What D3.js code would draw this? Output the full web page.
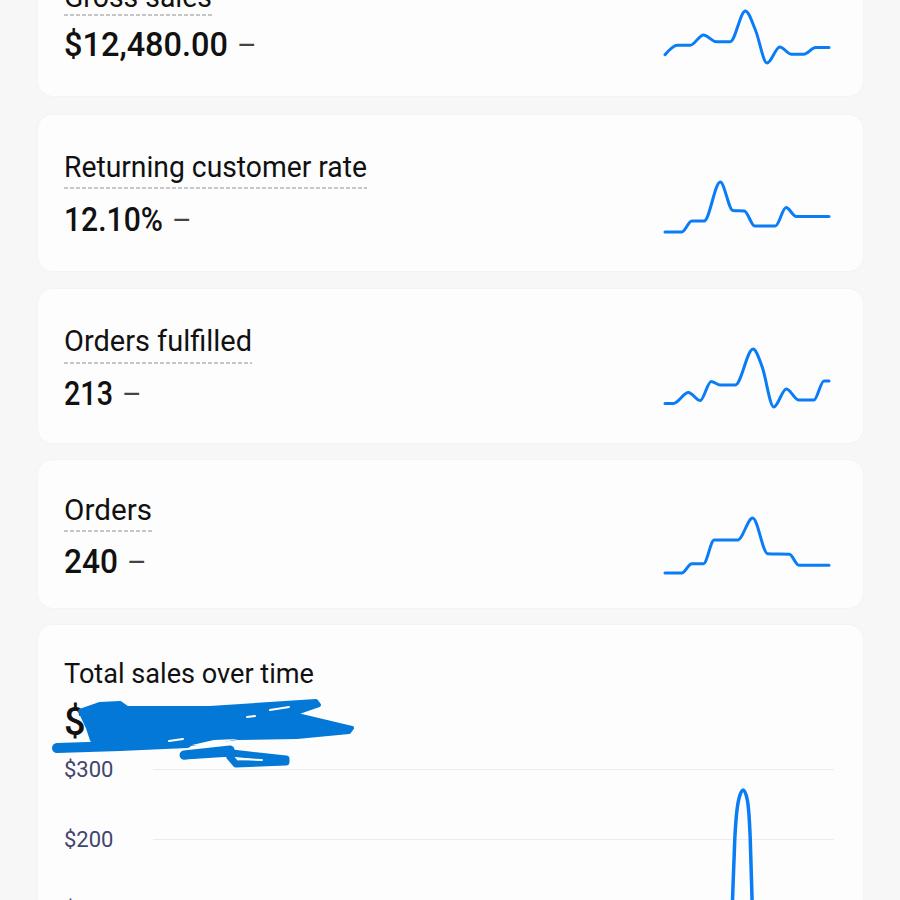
<!DOCTYPE html>
<html>
<head>
<meta charset="utf-8">
<script src="https://cdn.jsdelivr.net/npm/d3@7"></script>
<style>
  html, body { margin: 0; padding: 0; background: #f7f7f7; overflow: hidden; }
  svg { display: block; font-family: Roboto, sans-serif; }
</style>
</head>
<body>
<div id="chart"></div>
<script>
// metric cards
const metricNames = ["Gross sales", "Returning customer rate", "Orders fulfilled", "Orders"];
const metricValues = ["$12,480.00", "12.10%", "213", "240"];

// sparklines, knots (day, relative value 0-100)
const grossDays = [0, 0.98, 1.99, 3.05, 4.06, 5.17, 6.37, 7.16, 8.09, 9.1, 10, 11, 11.94, 13];
const grossVals = [16, 34, 34, 54, 41, 41, 100, 64, 0, 31, 17, 17, 30, 30];
const returningDays = [0, 1.33, 2.12, 3.1, 4.38, 5.38, 6.29, 7.11, 8.75, 9.6, 10.4, 13];
const returningVals = [0, 0, 22, 22, 100, 43, 42, 12, 12, 49, 31, 31];
const fulfilledDays = [0, 0.66, 1.86, 2.79, 3.66, 4.38, 5.57, 6.98, 7.69, 8.62, 9.62, 10.61, 11.8, 12.6, 13];
const fulfilledVals = [6, 6, 25, 11, 44, 38, 38, 100, 70, 0, 31, 12, 12, 45, 45];
const ordersDays = [0, 1.33, 2.12, 3.05, 3.9, 5.76, 6.95, 8.14, 9.86, 10.61, 13];
const ordersVals = [0, 0, 17, 17, 60, 60, 100, 35, 34, 14, 14];

// total sales over time
const salesDays = [0, 25.42, 25.53, 25.63, 25.8, 26, 26.18, 26.31, 26.39, 26.48, 30];
const salesVals = [0, 0, 113, 200, 256, 270, 256, 200, 113, 0, 0];
const salesTicks = [100, 200, 300];

const width = 900, height = 900;
const blue = "#0a7cf5";
const cardFill = "#fdfdfd";
const penBlue = "#0478d7";

const svg = d3.select("#chart").append("svg")
  .attr("width", width)
  .attr("height", height);

// card layout, text is squeezed to the widths in the screenshot
const cards = [
  { top: -60, bottom: 96, label: 7, labelW: 148, rule: 15, value: 56, valueW: 164, sparkTop: 11, sparkBottom: 63 },
  { top: 115, bottom: 271, label: 177, labelW: 303, rule: 188, value: 231, valueW: 99, sparkTop: 182, sparkBottom: 232 },
  { top: 289, bottom: 443, label: 351, labelW: 188, rule: 363, value: 405, valueW: 49, sparkTop: 349, sparkBottom: 407 },
  { top: 460, bottom: 608, label: 520, labelW: 88, rule: 531, value: 573, valueW: 54, sparkTop: 518, sparkBottom: 573 }
];
const sparkDays = [grossDays, returningDays, fulfilledDays, ordersDays];
const sparkVals = [grossVals, returningVals, fulfilledVals, ordersVals];

const drawCard = (top, bottom) => svg.append("rect")
  .attr("x", 37.5).attr("y", top - 0.5)
  .attr("width", 826).attr("height", bottom - top + 1)
  .attr("rx", 15)
  .attr("fill", cardFill)
  .attr("stroke", "#f4f4f4");

const sparkX = d3.scaleLinear().domain([0, 13]).range([665, 829]);

cards.forEach((c, i) => {
  drawCard(c.top, c.bottom);

  svg.append("text")
    .attr("x", 64).attr("y", c.label)
    .attr("font-size", 29.5).attr("fill", "#111")
    .attr("textLength", c.labelW).attr("lengthAdjust", "spacingAndGlyphs")
    .text(metricNames[i]);

  svg.append("line")
    .attr("x1", 64).attr("x2", 64 + c.labelW)
    .attr("y1", c.rule).attr("y2", c.rule)
    .attr("stroke", "#8f8f8f")
    .attr("stroke-dasharray", "4 2");

  svg.append("text")
    .attr("x", 64).attr("y", c.value)
    .attr("font-size", 33).attr("font-weight", 500).attr("fill", "#111")
    .attr("textLength", c.valueW).attr("lengthAdjust", "spacingAndGlyphs")
    .text(metricValues[i]);

  // dash after the number
  svg.append("text")
    .attr("x", 64 + c.valueW + 9).attr("y", c.value - 1)
    .attr("font-size", 30).attr("fill", "#444")
    .text("–");

  const sparkY = d3.scaleLinear().domain([0, 100]).range([c.sparkBottom, c.sparkTop]);
  const line = d3.line()
    .x((d, j) => sparkX(d))
    .y((d, j) => sparkY(sparkVals[i][j]))
    .curve(d3.curveMonotoneX);

  svg.append("path")
    .attr("d", line(sparkDays[i]))
    .attr("fill", "none")
    .attr("stroke", blue)
    .attr("stroke-width", 3)
    .attr("stroke-linecap", "round");
});

// bottom chart
drawCard(625, 1000);

svg.append("text")
  .attr("x", 64).attr("y", 683)
  .attr("font-size", 28).attr("fill", "#111")
  .attr("textLength", 250).attr("lengthAdjust", "spacingAndGlyphs")
  .text("Total sales over time");

svg.append("text")
  .attr("x", 64).attr("y", 735)
  .attr("font-size", 38).attr("font-weight", 500).attr("fill", "#111")
  .text("$");

const x = d3.scaleLinear().domain([0, 30]).range([153, 834]);
const y = d3.scaleLinear().domain([0, 300]).range([979, 769]);

const yAxis = svg.append("g")
  .attr("transform", "translate(153,0)")
  .call(d3.axisLeft(y)
    .tickValues(salesTicks)
    .tickSize(-681)
    .tickFormat((d) => "$" + d));
yAxis.select(".domain").remove();
yAxis.selectAll(".tick line").attr("stroke", "#ececec");
yAxis.selectAll(".tick text")
  .attr("x", -89)
  .attr("text-anchor", "start")
  .attr("font-family", "Roboto, sans-serif")
  .attr("font-size", 22)
  .attr("fill", "#42456f");

svg.append("path")
  .attr("d", d3.line()
    .x((d) => x(d))
    .y((d, j) => y(salesVals[j]))
    .curve(d3.curveMonotoneX)(salesDays))
  .attr("fill", "none")
  .attr("stroke", blue)
  .attr("stroke-width", 3.5);

// blue pen scribble hiding the total
const scribble = svg.append("g")
  .attr("fill", "none")
  .attr("stroke", penBlue)
  .attr("stroke-linecap", "round")
  .attr("stroke-linejoin", "round");

scribble.append("path")
  .attr("fill", penBlue)
  .attr("stroke-width", 4)
  .attr("d", d3.line()([[80, 711], [100, 704], [120, 703], [127, 708], [210, 708], [316, 701], [319, 705], [293, 714], [352, 728], [349, 732], [297, 737], [237, 738], [190, 744], [92, 740], [88, 728]]) + "Z");
scribble.append("path")
  .attr("stroke-width", 10)
  .attr("d", d3.line()([[57, 748], [120, 746], [187, 743]]));
scribble.append("path")
  .attr("stroke-width", 9)
  .attr("d", d3.line()([[184, 755], [230, 750]]));
scribble.append("path")
  .attr("stroke-width", 7)
  .attr("d", d3.line()([[184, 756], [232, 753], [286, 759], [286, 762], [236, 764], [230, 757]]));

// little gaps left by the pen
const gaps = [
  [[169, 741], [183, 739]],
  [[270, 710], [289, 707]],
  [[247, 717], [255, 716]],
  [[240, 759], [262, 760]]
];
gaps.forEach((g) => {
  svg.append("path")
    .attr("d", d3.line()(g))
    .attr("stroke", cardFill)
    .attr("stroke-width", 2)
    .attr("stroke-linecap", "round");
});
svg.append("path")
  .attr("d", d3.line()([[192, 745], [206, 746], [238, 739], [214, 740]]) + "Z")
  .attr("fill", cardFill);
</script>
</body>
</html>
